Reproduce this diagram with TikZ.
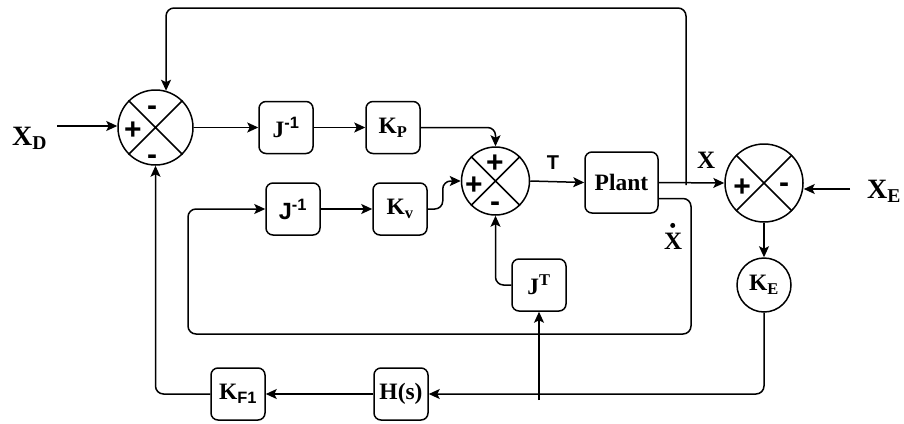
\documentclass[tikz,border=0pt]{standalone}
\usepackage{fontspec}
\setmainfont{Liberation Serif}
\setsansfont{Liberation Sans}
\usetikzlibrary{arrows.meta}

\tikzset{
	blk/.style={draw, rounded corners=7pt, line width=1.5pt, minimum width=54pt, minimum height=52pt, inner sep=1pt, font=\fontsize{23.5}{26}\selectfont\bfseries},
	sumnode/.style={draw, circle, line width=1.5pt, inner sep=0pt},
	sgn/.style={inner sep=0pt, font=\fontsize{30}{30}\selectfont\sffamily\bfseries},
	sig/.style={inner sep=0pt, font=\fontsize{28}{30}\selectfont\bfseries},
	wire/.style={line width=1.5pt, -{Stealth[length=11pt,width=10pt,inset=2.5pt]}},
	plainwire/.style={line width=1.5pt},
}

\begin{document}
\begin{tikzpicture}[x=1pt, y=-1pt]
	\useasboundingbox (0,0) rectangle (904,423);
	% Summing junctions:
	\node[sumnode, minimum size=75pt] (s1) at (155.5, 127.5){};
	\node[sumnode, minimum size=68pt] (s2) at (495.5, 181){};
	\node[sumnode, minimum size=78pt] (s3) at (764, 183){};
	\draw[plainwire] (s1.north west) -- (s1.south east) (s1.north east) -- (s1.south west);
	\draw[plainwire] (s2.north west) -- (s2.south east) (s2.north east) -- (s2.south west);
	\draw[plainwire] (s3.north west) -- (s3.south east) (s3.north east) -- (s3.south west);
	\node[sgn] (s1top) at (152, 111){-};
	\node[sgn] (s1left) at (133, 131){+};
	\node[sgn] (s1bot) at (152, 160){-};
	\node[sgn] (s2top) at (495, 164){+};
	\node[sgn] (s2left) at (474, 186){+};
	\node[sgn] (s2bot) at (495, 207){-};
	\node[sgn] (s3left) at (742, 188){+};
	\node[sgn] (s3right) at (784, 188){-};
	% Blocks:
	\node[blk] (jinv1) at (286, 127.5){J\textsuperscript{\sffamily -1}};
	\node[blk] (kp) at (393, 127.5){K\textsubscript{P}};
	\node[blk] (jinv2) at (293, 209){\sffamily J\textsuperscript{-1}};
	\node[blk] (kv) at (400, 209){K\textsubscript{v}};
	\node[blk, minimum width=73pt, minimum height=61pt] (plant) at (621.5, 182.5){Plant};
	\node[blk] (jt) at (539, 285){J\textsuperscript{T}};
	\node[blk] (hs) at (401, 394){H(s)};
	\node[blk] (kf) at (238, 394){K\textsubscript{\sffamily F1}};
	\node[draw, circle, line width=1.5pt, minimum size=54pt, inner sep=0pt, font=\fontsize{23.5}{26}\selectfont\bfseries] (ke) at (764, 285){K\textsubscript{E}};
	% Signal labels:
	\node[sig, anchor=base west] (xd) at (12, 145){X\textsubscript{D}};
	\node[sig, anchor=base west] (xe) at (867, 198){X\textsubscript{E}};
	\node[sig, anchor=base west, font=\fontsize{25}{26}\selectfont\bfseries] (xout) at (697, 168){X};
	\node[sig, anchor=base west, font=\fontsize{25}{26}\selectfont\bfseries] (xdot) at (664, 249){X};
	\fill (xdot.north) ++(-0.5, -7) circle (2.5);
	\node[inner sep=0pt, anchor=base, font=\fontsize{20}{22}\selectfont\sffamily\bfseries] (tlbl) at (553, 169){T};
	\coordinate (xdin) at (57, 126);
	\coordinate (xein) at (850, 189);
	\coordinate (fbx) at (686, 185);
	\coordinate (tap) at (539, 400);
	% Wires:
	\draw[wire] (xdin) -- (xdin -| s1.west);
	\draw[wire] (xein) -- (xein -| s3.east);
	\draw[wire] (s1.east) -- (jinv1.west);
	\draw[wire] (jinv1.east) -- (kp.west);
	\draw[wire, rounded corners=8pt] (kp.east) -| (s2.north);
	\draw[wire] (jinv2.east) -- (kv.west);
	\draw[wire, rounded corners=8pt] (kv.east) -- ++(15, 0) |- (s2.west);
	\draw[wire] (s2.east) -- (plant.west);
	\draw[wire] (plant.east) -- (s3.west);
	\draw[wire, rounded corners=8pt] (fbx) -- ++(0, -177) -| (s1.74);
	\draw[wire, rounded corners=8pt] (plant.east) ++(0, 16) -| (691, 334) -| (188, 209) -- (jinv2.west);
	\draw[wire, rounded corners=8pt] (jt.west) -| (s2.south);
	\draw[wire] (s3.south) -- (ke.north);
	\draw[wire, rounded corners=8pt] (ke.south) |- (hs.east);
	\draw[wire] (tap) -- (jt.south);
	\draw[wire] (hs.west) -- (kf.east);
	\draw[wire, rounded corners=8pt] (kf.west) -| (s1.south);
\end{tikzpicture}
\end{document}
